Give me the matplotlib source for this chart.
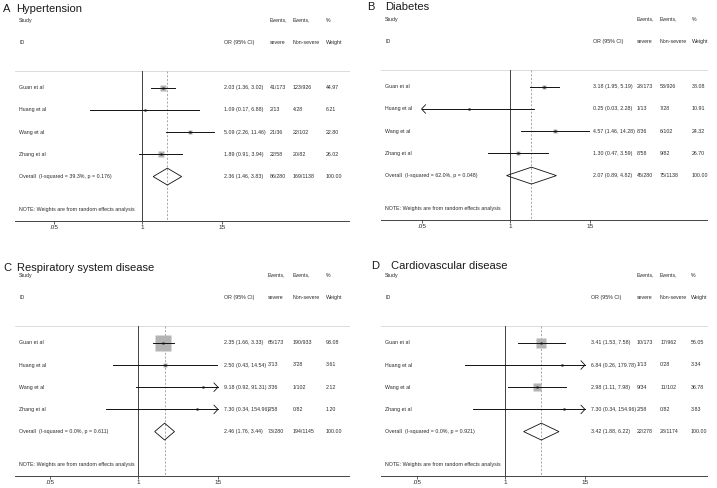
import numpy as np
import matplotlib
matplotlib.use('Agg')
import matplotlib.pyplot as plt
from matplotlib.patches import Polygon
from matplotlib import font_manager

plt.rcParams['font.family'] = ['Liberation Sans', 'DejaVu Sans']

studies = ['Guan et al', 'Huang et al', 'Wang et al', 'Zhang et al']

# A Hypertension
hyp_or = [2.03, 1.09, 5.09, 1.89]
hyp_lo = [1.36, 0.17, 2.26, 0.91]
hyp_hi = [3.02, 6.88, 11.46, 3.94]
hyp_sev = ['41/173', '2/13', '21/36', '22/58']
hyp_non = ['123/926', '4/28', '22/102', '20/82']
hyp_w = [44.97, 6.21, 22.80, 26.02]
hyp_overall = [2.36, 1.46, 3.83]
hyp_overall_ev = ['86/280', '169/1138']
hyp_i2 = [39.3, 0.176]

# B Diabetes
dia_or = [3.18, 0.25, 4.57, 1.30]
dia_lo = [1.95, 0.03, 1.46, 0.47]
dia_hi = [5.19, 2.28, 14.28, 3.59]
dia_sev = ['28/173', '1/13', '8/36', '8/58']
dia_non = ['53/926', '7/28', '6/102', '9/82']
dia_w = [38.08, 10.91, 24.32, 26.70]
dia_overall = [2.07, 0.89, 4.82]
dia_overall_ev = ['45/280', '75/1138']
dia_i2 = [62.0, 0.048]

# C Respiratory system disease
res_or = [2.35, 2.50, 9.18, 7.30]
res_lo = [1.66, 0.43, 0.92, 0.34]
res_hi = [3.33, 14.54, 91.31, 154.96]
res_sev = ['65/173', '3/13', '3/36', '2/58']
res_non = ['190/933', '3/28', '1/102', '0/82']
res_w = [93.08, 3.61, 2.12, 1.20]
res_overall = [2.46, 1.76, 3.44]
res_overall_ev = ['73/280', '194/1145']
res_i2 = [0.0, 0.611]

# D Cardiovascular disease
car_or = [3.41, 6.84, 2.98, 7.30]
car_lo = [1.53, 0.26, 1.11, 0.34]
car_hi = [7.58, 179.78, 7.98, 154.96]
car_sev = ['10/173', '1/13', '9/34', '2/58']
car_non = ['17/962', '0/28', '11/102', '0/82']
car_w = [56.05, 3.34, 36.78, 3.83]
car_overall = [3.42, 1.88, 6.22]
car_overall_ev = ['22/278', '28/1174']
car_i2 = [0.0, 0.921]

tick_vals = [0.05, 1, 15]
tick_labels = ['.05', '1', '15']

W, H = 717, 488
fig = plt.figure(figsize=(W / 100, H / 100), dpi=100)

_names = {f.name for f in font_manager.fontManager.ttflist}
if 'Liberation Sans Narrow' in _names:
    SMALL = ['Liberation Sans Narrow', 'DejaVu Sans']
    FS = 4.6
else:
    SMALL = ['Liberation Sans', 'DejaVu Sans']
    FS = 3.8

PXDEC = 68.0
ROW = 22.2
TXT = '#2b2b2b'


def draw_panel(letter, title, lx, tx, ty, left, right, bottom, one_px, cols, box_scale,
               ors, los, his, sev, non, w, overall, overall_ev, i2):
    height = 9.5 * ROW
    ax = fig.add_axes([left / W, 1 - bottom / H, (right - left) / W, height / H])
    xl = -(one_px - left) / PXDEC
    xr = (right - one_px) / PXDEC
    ax.set_xlim(xl, xr)
    ax.set_ylim(6.0, -3.5)
    for s in ['top', 'right', 'left']:
        ax.spines[s].set_visible(False)
    ax.spines['bottom'].set_color('#444444')
    ax.spines['bottom'].set_linewidth(0.7)
    ax.set_yticks([])
    ax.set_xticks(np.log10(tick_vals))
    ax.set_xticklabels(tick_labels, family=SMALL)
    ax.tick_params(axis='x', length=2.2, width=0.6, color='#444444', pad=0.8,
                   labelsize=4.6, labelcolor=TXT)

    cl, cr = np.log10(0.05), np.log10(15)
    sep = -0.74
    ax.plot([xl, xr], [sep, sep], color='#d6d6d6', lw=0.6, clip_on=False)
    ax.plot([0, 0], [sep, 6.0], color='#222222', lw=0.6)
    ov = np.log10(overall[0])
    ax.plot([ov, ov], [sep, 6.0], color='#9a9a9a', lw=0.6, ls=(0, (2.5, 2)))

    yb = ax.get_yaxis_transform()

    def t(x, y, s):
        ax.text(x, y, s, transform=yb, fontsize=FS, color=TXT, va='center', family=SMALL)

    for i in range(len(ors)):
        est = np.log10(ors[i])
        lo = np.log10(los[i])
        hi = np.log10(his[i])
        lo_c = max(lo, cl)
        hi_c = min(hi, cr)
        side = box_scale * np.sqrt(w[i])
        ax.plot(est, i, marker='s', ms=side * 0.72, color='#b4b4b4', mec='none', zorder=2)
        ax.plot([lo_c, hi_c], [i, i], color='#111111', lw=0.7, zorder=3)
        ax.plot(est, i, marker='s', ms=1.5, color='#111111', mec='none', zorder=4)
        dx = 4.0 / PXDEC
        dy = 0.19
        if hi > cr:
            ax.plot([cr - dx, cr, cr - dx], [i - dy, i, i + dy], color='#111111', lw=0.6)
        if lo < cl:
            ax.plot([cl + dx, cl, cl + dx], [i - dy, i, i + dy], color='#111111', lw=0.6)
        t(4 / (right - left), i, studies[i])
        t(cols[0], i, f'{ors[i]:.2f} ({los[i]:.2f}, {his[i]:.2f})')
        t(cols[1], i, sev[i])
        t(cols[2], i, non[i])
        t(cols[3], i, f'{w[i]:.2f}')

    n = len(ors)
    dlo, dhi = np.log10(overall[1]), np.log10(overall[2])
    dh = 0.38
    ax.add_patch(Polygon([[dlo, n], [ov, n - dh], [dhi, n], [ov, n + dh]], closed=True,
                         fill=False, ec='#111111', lw=0.6, zorder=3))
    t(4 / (right - left), n, f'Overall  (I-squared = {i2[0]:.1f}%, p = {i2[1]:.3f})')
    t(cols[0], n, f'{overall[0]:.2f} ({overall[1]:.2f}, {overall[2]:.2f})')
    t(cols[1], n, overall_ev[0])
    t(cols[2], n, overall_ev[1])
    t(cols[3], n, '100.00')

    hx = 4 / (right - left)
    t(hx, -3.05, 'Study')
    t(hx, -2.03, 'ID')
    t(cols[0], -2.03, 'OR (95% CI)')
    t(cols[1], -3.05, 'Events,')
    t(cols[1], -2.03, 'severe')
    t(cols[2], -3.05, 'Events,')
    t(cols[2], -2.03, 'Non-severe')
    t(cols[3], -3.05, '%')
    t(cols[3], -2.03, 'Weight')
    t(hx, 5.5, 'NOTE: Weights are from random effects analysis')

    fig.text(lx / W, 1 - ty / H, letter, fontsize=8, color='#1a1a1a', va='baseline')
    fig.text(tx / W, 1 - ty / H, title, fontsize=8, color='#1a1a1a', va='baseline')


draw_panel('A', 'Hypertension', 3, 16, 12, 15, 349, 221, 142, [0.626, 0.763, 0.832, 0.931], 1.0,
           hyp_or, hyp_lo, hyp_hi, hyp_sev, hyp_non, hyp_w, hyp_overall, hyp_overall_ev, hyp_i2)
draw_panel('B', 'Diabetes', 367, 385, 10, 381, 707, 220, 510, [0.650, 0.785, 0.856, 0.954], 0.8,
           dia_or, dia_lo, dia_hi, dia_sev, dia_non, dia_w, dia_overall, dia_overall_ev, dia_i2)
draw_panel('C', 'Respiratory system disease', 3, 17, 271, 15, 349, 476, 138,
           [0.626, 0.757, 0.832, 0.931], 1.7,
           res_or, res_lo, res_hi, res_sev, res_non, res_w, res_overall, res_overall_ev, res_i2)
draw_panel('D', 'Cardiovascular disease', 371, 391, 269, 381, 707, 476, 505,
           [0.644, 0.785, 0.856, 0.951], 1.25,
           car_or, car_lo, car_hi, car_sev, car_non, car_w, car_overall, car_overall_ev, car_i2)

fig.savefig('out.png', dpi=100, facecolor='white')
